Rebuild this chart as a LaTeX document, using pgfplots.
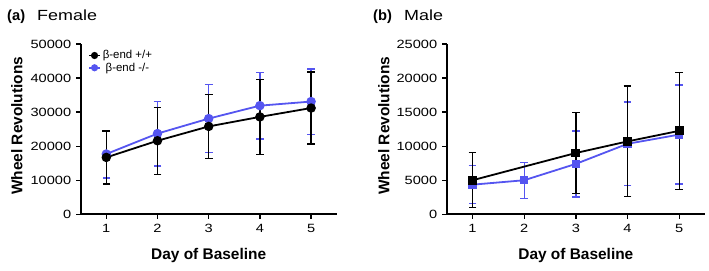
\documentclass[border=0pt]{standalone}
\usepackage{pgfplots}
\pgfplotsset{compat=1.18}
\usepackage{fontspec}
\setmainfont{Liberation Sans}
\newfontfamily\wide[FakeStretch=1.22]{Liberation Sans}
\definecolor{myblue}{RGB}{85,85,240}
\pgfplotsset{
  panel/.style={
    scale only axis, width=256bp, height=170.3bp,
    axis x line*=bottom, axis y line*=left,
    axis line style={line width=1.6bp},
    every tick/.style={line width=1.3bp, black},
    tick align=outside, major tick length=4.5bp,
    xmin=0.5, xmax=5.5, xtick={1,2,3,4,5}, ymin=0,
    scaled y ticks=false,
    /pgf/number format/1000 sep={},
    /pgf/number format/assume math mode=true,
    ticklabel style={font=\wide\fontsize{12}{12}\selectfont},
    xticklabel style={yshift=-2bp},
    yticklabel style={xshift=-1.5bp},
    label style={font=\bfseries\fontsize{15.5}{15.5}\selectfont},
    xlabel={Day of Baseline},
    ylabel={Wheel Revolutions},
    x label style={at={(axis description cs:0.5,-0.2625)}, anchor=base},
    clip=false,
    error bars/y dir=both, error bars/y explicit,
    error bars/error bar style={line width=1.3bp},
    error bars/error mark options={rotate=90, mark size=3.8bp, line width=1.3bp},
  },
  blk/.style={black, line width=1.8bp, mark size=3.8bp},
  blu/.style={myblue, line width=1.8bp, mark size=3.8bp},
}
\pgfplotstableread{
x y e
1 16700 7800
2 21600 9850
3 25800 9350
4 28600 11000
5 31200 10550
}\femblack
\pgfplotstableread{
x y e
1 17700 7000
2 23700 9500
3 28100 9950
4 31900 9750
5 33100 9600
}\femblue
\pgfplotstableread{
x y e
1 5000 4030
3 9000 5950
4 10700 8120
5 12250 8600
}\maleblack
\pgfplotstableread{
x y e
1 4350 2770
2 5000 2640
3 7400 4850
4 10350 6130
5 11700 7260
}\maleblue
\begin{document}
\begin{tikzpicture}
\path[use as bounding box] (0,0) rectangle (709bp,271bp);
\node[anchor=base west, inner sep=0, font=\bfseries\fontsize{14.75}{14.75}\selectfont] at (7bp,250bp) {(a)};
\node[anchor=base west, inner sep=0, font=\wide\fontsize{14.75}{14.75}\selectfont] at (37bp,250bp) {Female};
\node[anchor=base west, inner sep=0, font=\bfseries\fontsize{14.75}{14.75}\selectfont] at (373bp,250bp) {(b)};
\node[anchor=base west, inner sep=0, font=\wide\fontsize{14.75}{14.75}\selectfont] at (404bp,250bp) {Male};
\begin{axis}[panel, at={(80.7bp,56.7bp)}, anchor=south west,
  ymax=50000, ytick={0,10000,20000,30000,40000,50000},
  y label style={at={(axis description cs:-0.249,0.52)}, anchor=center},
  reverse legend,
  legend style={at={(axis description cs:0.025,0.98)}, anchor=north west, draw=none, fill=none,
    font=\fontsize{11.5}{11.5}\selectfont, row sep=-1.5bp, inner sep=1bp},
  legend image code/.code={\draw[mark repeat=2, mark phase=2, #1, line width=1.5bp, mark size=2.8bp] plot coordinates {(0bp,0bp)(5.5bp,0bp)(11bp,0bp)};},
]
\addplot[blu, mark=*] table[x=x, y=y, y error=e] {\femblue};
\addlegendentry{β-end -/-}
\addplot[blk, mark=*] table[x=x, y=y, y error=e] {\femblack};
\addlegendentry{β-end +/+}
\end{axis}
\begin{axis}[panel, at={(446.7bp,56.7bp)}, anchor=south west, width=258.3bp,
  ymax=25000, ytick={0,5000,10000,15000,20000,25000},
  y label style={at={(axis description cs:-0.243,0.52)}, anchor=center},
]
\addplot[blu, mark=square*, mark size=3.3bp] table[x=x, y=y, y error=e] {\maleblue};
\addplot[blk, mark=square*, mark size=3.5bp] table[x=x, y=y, y error=e] {\maleblack};
\end{axis}
\end{tikzpicture}
\end{document}
